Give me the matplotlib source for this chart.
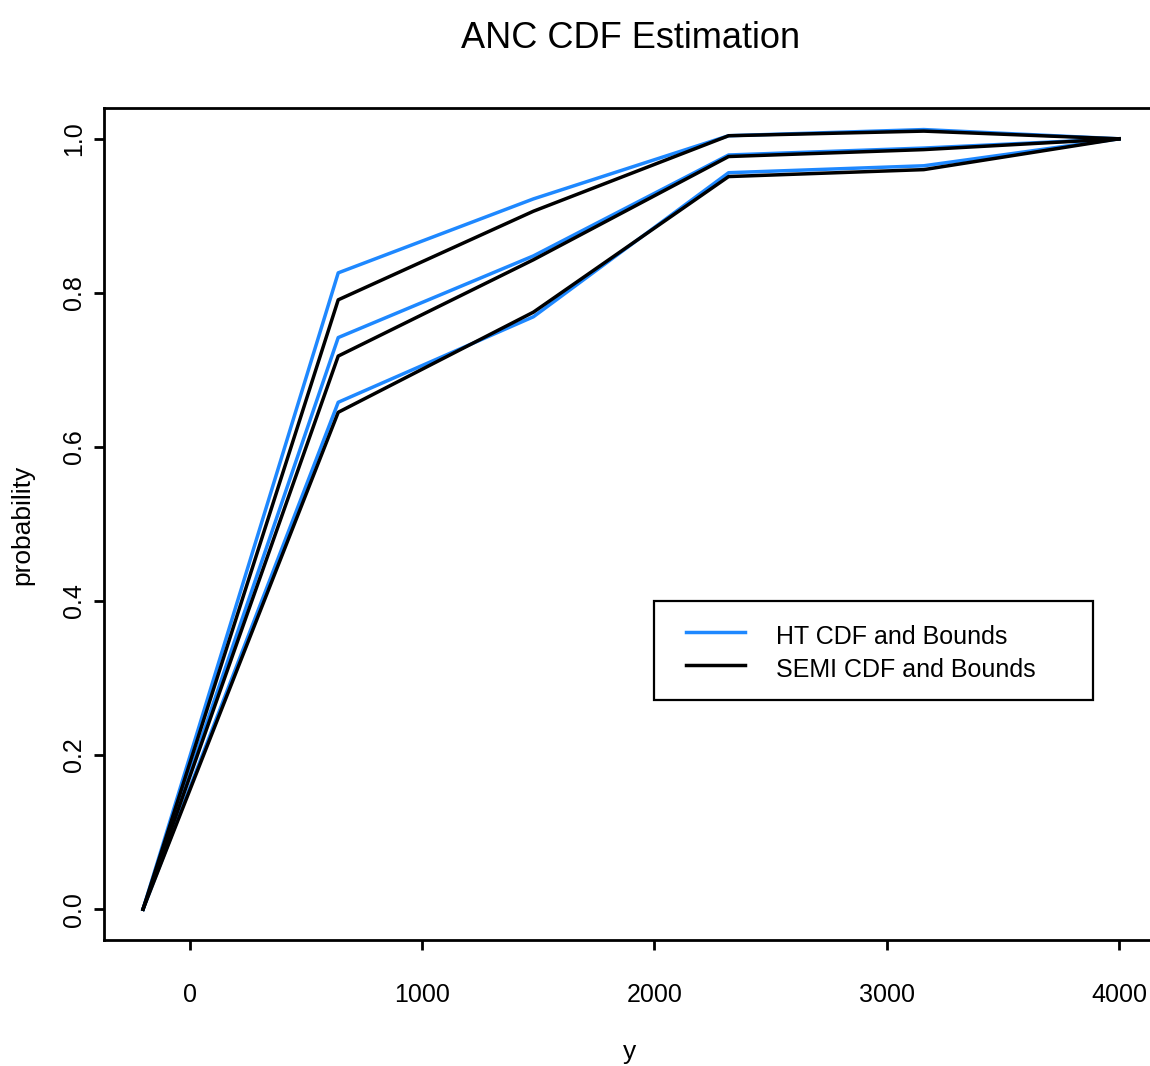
import matplotlib
matplotlib.use("Agg")
import matplotlib.pyplot as plt
from matplotlib.lines import Line2D
from matplotlib.patches import Rectangle

plt.rcParams['font.family'] = ['Liberation Sans', 'DejaVu Sans']

# data
y_vals = [-200, 640, 1480, 2320, 3160, 4000]
ht_upper = [0.0, 0.826, 0.922, 1.004, 1.012, 1.0]
ht_cdf = [0.0, 0.742, 0.848, 0.979, 0.988, 1.0]
ht_lower = [0.0, 0.658, 0.769, 0.956, 0.965, 1.0]
semi_upper = [0.0, 0.791, 0.906, 1.004, 1.010, 1.0]
semi_cdf = [0.0, 0.718, 0.843, 0.977, 0.986, 1.0]
semi_lower = [0.0, 0.645, 0.775, 0.951, 0.960, 1.0]
x_ticks = [0, 1000, 2000, 3000, 4000]
y_ticks = [0.0, 0.2, 0.4, 0.6, 0.8, 1.0]
legend_labels = ["HT CDF and Bounds", "SEMI CDF and Bounds"]

blue = '#1E88FF'
W, H = 1150, 1066
fig = plt.figure(figsize=(W / 100, H / 100), dpi=100)
# right edge of the box sits just outside the picture, as in the reference
ax = fig.add_axes([104 / W, 126 / H, 1054 / W, 832 / H])

lw = 2.5
for s in [ht_upper, ht_cdf, ht_lower]:
    ax.plot(y_vals, s, color=blue, lw=lw)
for s in [semi_upper, semi_cdf, semi_lower]:
    ax.plot(y_vals, s, color='black', lw=lw)

ax.set_xlim(-368, 4168)
ax.set_ylim(-0.04, 1.04)
ax.set_xticks(x_ticks)
ax.set_xticklabels([str(t) for t in x_ticks])
ax.set_yticks(y_ticks)
ax.set_yticklabels([f"{t:.1f}" for t in y_ticks], rotation=90, va='center')
ax.tick_params(length=7, width=2, labelsize=18, direction='out')
ax.tick_params(axis='x', pad=24)
ax.tick_params(axis='y', pad=6)
for sp in ax.spines.values():
    sp.set_linewidth(2)

ax.set_title("ANC CDF Estimation", fontsize=26, pad=43)
fig.text(630 / W, 1 - 1052 / H, "y", fontsize=19, ha='center', va='center')
fig.text(22 / W, 1 - 525 / H, "probability", fontsize=19, rotation=90,
         ha='center', va='center')

# legend box drawn in figure pixels to match the R layout
fig.add_artist(Rectangle((654 / W, 1 - 700 / H), 439 / W, 99 / H,
                         transform=fig.transFigure, facecolor='white',
                         edgecolor='black', lw=1.6, zorder=5))
for lab, col, yy in zip(legend_labels, [blue, 'black'], [632, 665]):
    fig.add_artist(Line2D([686 / W, 745 / W], [1 - yy / H, 1 - yy / H],
                          transform=fig.transFigure, color=col, lw=lw, zorder=6))
    fig.text(776 / W, 1 - (yy + 5) / H, lab, fontsize=18, ha='left',
             va='center', zorder=6)

fig.savefig("out.png", dpi=100)
